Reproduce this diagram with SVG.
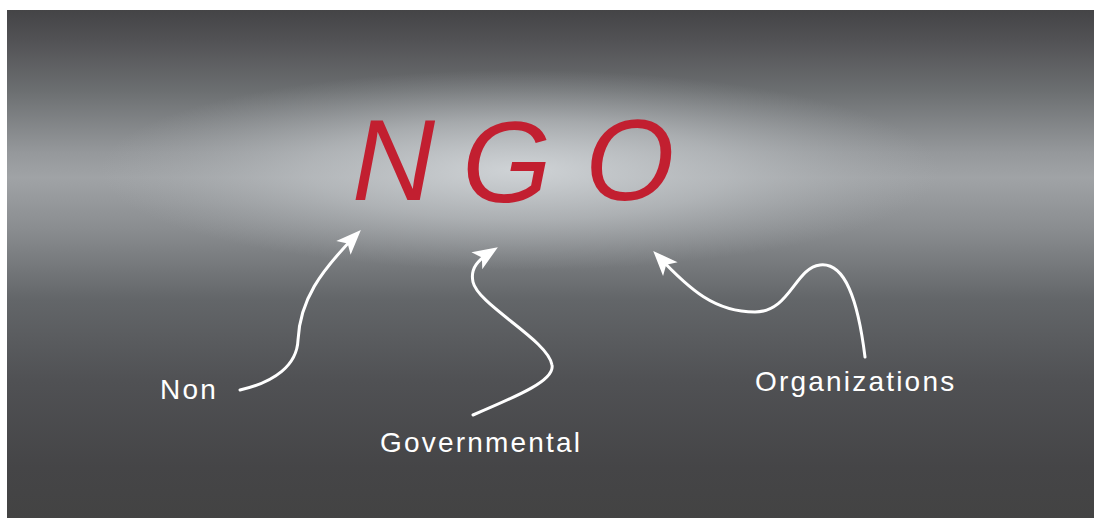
<svg xmlns="http://www.w3.org/2000/svg" width="1095" height="518" viewBox="0 0 1095 518">
<style>
.lbl{font-family:"Liberation Sans",Arial,sans-serif;font-size:28px;fill:#ffffff;letter-spacing:2.2px}
.big{font-family:"Liberation Sans",Arial,sans-serif;font-style:italic;font-size:115px;fill:#c21f30}
.conn{fill:none;stroke:#ffffff;stroke-width:3;stroke-linecap:round}
</style>
<defs>
<linearGradient id="bg" x1="0" y1="0" x2="0" y2="1">
<stop offset="0" stop-color="#444446"/>
<stop offset="0.06" stop-color="#525255"/>
<stop offset="0.16" stop-color="#6c6f71"/>
<stop offset="0.28" stop-color="#95989b"/>
<stop offset="0.33" stop-color="#a0a3a6"/>
<stop offset="0.43" stop-color="#8a8d90"/>
<stop offset="0.57" stop-color="#636669"/>
<stop offset="0.73" stop-color="#505154"/>
<stop offset="0.9" stop-color="#454547"/>
<stop offset="1" stop-color="#434343"/>
</linearGradient>
<radialGradient id="glow" gradientUnits="userSpaceOnUse" cx="0" cy="0" r="1" gradientTransform="translate(520,170) scale(420,100)">
<stop offset="0" stop-color="#d2d6d9" stop-opacity="0.95"/>
<stop offset="0.5" stop-color="#c4c8cb" stop-opacity="0.55"/>
<stop offset="1" stop-color="#b0b4b7" stop-opacity="0"/>
</radialGradient>
<marker id="ah" markerUnits="userSpaceOnUse" markerWidth="30" markerHeight="24" viewBox="0 0 30 24" refX="20" refY="12" orient="auto">
<path d="M2,2 L27,12 L2,22 L8,12 Z" fill="#ffffff"/>
</marker>
</defs>
<rect x="7" y="10" width="1087" height="508" fill="url(#bg)"/>
<rect x="7" y="10" width="1087" height="508" fill="url(#glow)"/>
<g id="title">
<text class="big" x="352" y="200">N</text>
<text class="big" x="462" y="202">G</text>
<text class="big" x="585" y="200">O</text>
</g>
<g id="connectors">
<path class="conn" marker-end="url(#ah)" d="M240,390 C275,382 297,365 298,340 C300,300 320,272 356,235"/>
<path class="conn" marker-end="url(#ah)" d="M473,415 C520,395 555,380 552,365 C548,340 478,305 473,282 C470,268 478,260 492,251"/>
<path class="conn" marker-end="url(#ah)" d="M865,357 C858,300 845,262 820,265 C795,268 790,312 755,312 C715,312 690,290 658,256"/>
</g>
<g id="label-non"><text class="lbl" x="160" y="399">Non</text></g>
<g id="label-governmental"><text class="lbl" x="380" y="452">Governmental</text></g>
<g id="label-organizations"><text class="lbl" x="755" y="391">Organizations</text></g>
</svg>
